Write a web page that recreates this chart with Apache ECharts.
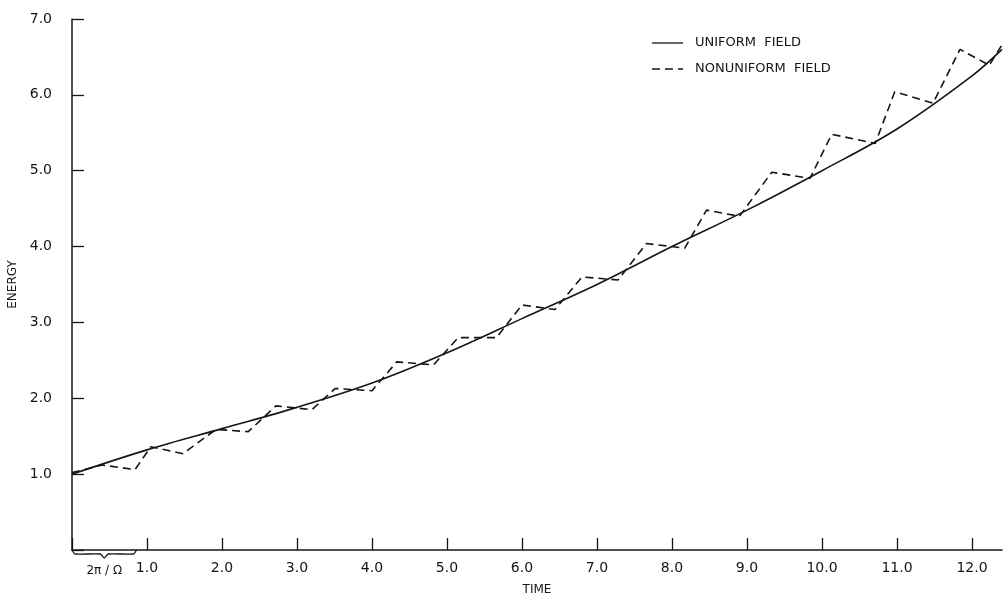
<!DOCTYPE html>
<html>
<head>
<meta charset="utf-8">
<script src="https://cdn.jsdelivr.net/npm/echarts@6/dist/echarts.min.js"></script>
<style>
  html, body { margin: 0; padding: 0; background: #fff; }
  #chartmain { width: 1003px; height: 596px; }
</style>
</head>
<body>
<div id="chartmain"></div>
<script>
// uniform field curve
var timeUniform = [0, 1, 2, 3, 4, 5, 6, 7, 8, 9, 10, 11, 12, 12.4];
var energyUniform = [1.0, 1.32, 1.6, 1.88, 2.2, 2.6, 3.05, 3.5, 4.0, 4.48, 5.0, 5.55, 6.25, 6.6];

// nonuniform field: sawtooth corners
var timeNonuniform = [0, 0.4, 0.84, 1.05, 1.48, 1.92, 2.35, 2.72, 3.2, 3.51, 4.0, 4.33, 4.82, 5.15, 5.66, 6.0,
    6.44, 6.8, 7.28, 7.66, 8.17, 8.46, 8.9, 9.33, 9.84, 10.13, 10.71, 10.97, 11.48, 11.84, 12.23, 12.4];
var energyNonuniform = [1.02, 1.12, 1.06, 1.36, 1.27, 1.59, 1.56, 1.9, 1.85, 2.13, 2.1, 2.48, 2.44, 2.8, 2.8, 3.23,
    3.17, 3.6, 3.56, 4.04, 3.98, 4.48, 4.4, 4.98, 4.9, 5.48, 5.36, 6.04, 5.89, 6.6, 6.39, 6.66];

var seriesNames = ['UNIFORM  FIELD', 'NONUNIFORM  FIELD'];
var periodEnd = 0.86; // width of the 2pi/Omega brace, in time units

function pairs(xs, ys) {
    var out = [];
    for (var i = 0; i < xs.length; i++) {
        out.push([xs[i], ys[i]]);
    }
    return out;
}

var fontName = '"DejaVu Sans", sans-serif';
var ink = '#151515';

var myChart = echarts.init(document.getElementById('chartmain'));
var option = {
    animation: false,
    backgroundColor: '#fff',
    grid: { left: 72, top: 19, right: 1, bottom: 46, containLabel: false, outerBoundsMode: 'none' },
    xAxis: {
        type: 'value',
        min: 0,
        max: 12.4,
        interval: 1,
        name: 'TIME',
        nameLocation: 'middle',
        nameGap: 34,
        nameTextStyle: { color: ink, fontSize: 12, fontFamily: fontName },
        splitLine: { show: false },
        axisLine: { lineStyle: { color: ink, width: 1.5 } },
        axisTick: { inside: true, length: 12, lineStyle: { color: ink, width: 1.3 } },
        axisLabel: {
            color: ink, fontSize: 14, fontFamily: fontName, margin: 11,
            showMaxLabel: false,
            formatter: function (v) {
                if (v === 0 || Math.abs(v - Math.round(v)) > 1e-6) return '';
                return v.toFixed(1);
            }
        }
    },
    yAxis: {
        type: 'value',
        min: 0,
        max: 7,
        interval: 1,
        name: 'ENERGY',
        nameLocation: 'middle',
        nameGap: 48,
        nameRotate: 90,
        nameTextStyle: { color: ink, fontSize: 12, fontFamily: fontName },
        splitLine: { show: false },
        axisLine: { show: true, lineStyle: { color: ink, width: 1.5 } },
        axisTick: { show: true, inside: true, length: 12, lineStyle: { color: ink, width: 1.3 } },
        axisLabel: {
            color: ink, fontSize: 14, fontFamily: fontName, margin: 20,
            formatter: function (v) { return v === 0 ? '' : v.toFixed(1); }
        }
    },
    series: [
        {
            name: seriesNames[0],
            type: 'line',
            symbol: 'none',
            smooth: 0.35,
            data: pairs(timeUniform, energyUniform),
            lineStyle: { color: ink, width: 1.6 },
            itemStyle: { color: ink }
        },
        {
            name: seriesNames[1],
            type: 'line',
            symbol: 'none',
            data: pairs(timeNonuniform, energyNonuniform),
            lineStyle: { color: ink, width: 1.6, type: [8, 5] },
            itemStyle: { color: ink }
        }
    ]
};
myChart.setOption(option);

// brace marking one period under the time axis
var p0 = myChart.convertToPixel({ gridIndex: 0 }, [0, 0]);
var p1 = myChart.convertToPixel({ gridIndex: 0 }, [periodEnd, 0]);
var mid = (p0[0] + p1[0]) / 2;
var by = p0[1];

// hand drawn legend, top right
var legX = 652, legY = 43, legGap = 26;
var graphics = [
    {
        type: 'polyline',
        shape: {
            points: [[p0[0], by], [p0[0] + 3, by + 4], [mid - 4, by + 4], [mid, by + 8],
                [mid + 4, by + 4], [p1[0] - 3, by + 4], [p1[0], by]],
            smooth: 0.2
        },
        style: { stroke: ink, lineWidth: 1.3, fill: null }
    },
    {
        type: 'text',
        x: mid,
        y: by + 21,
        style: {
            text: '2\u03c0 / \u03a9',
            fill: ink,
            font: '12px ' + fontName,
            align: 'center',
            verticalAlign: 'middle'
        }
    }
];
for (var i = 0; i < seriesNames.length; i++) {
    graphics.push({
        type: 'line',
        shape: { x1: legX, y1: legY + i * legGap, x2: legX + 31, y2: legY + i * legGap },
        style: { stroke: ink, lineWidth: 1.3, lineDash: i === 0 ? null : [8, 5] }
    });
    graphics.push({
        type: 'text',
        x: legX + 43,
        y: legY + i * legGap,
        style: {
            text: seriesNames[i],
            fill: ink,
            font: '13px ' + fontName,
            align: 'left',
            verticalAlign: 'middle'
        }
    });
}
myChart.setOption({ graphic: graphics });
</script>
</body>
</html>
